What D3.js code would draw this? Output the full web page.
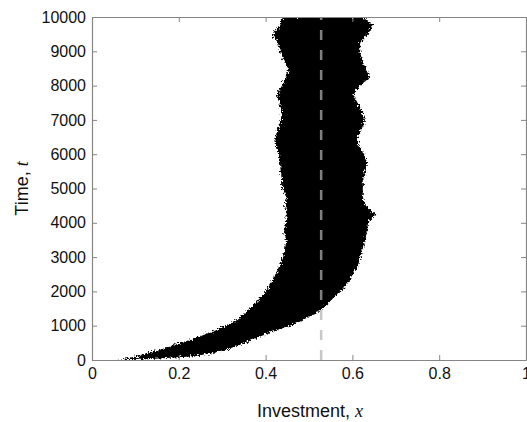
<!DOCTYPE html>
<html>
<head>
<meta charset="utf-8">
<script src="https://cdn.jsdelivr.net/npm/d3@7"></script>
<style>
	html, body { margin: 0; padding: 0; background: #fff; }
	svg { display: block; font-family: "Liberation Sans", Arial, sans-serif; }
	.axis path, .axis line { stroke: #858585; }
	.axis text { fill: #111; font-size: 16px; }
</style>
</head>
<body>
<div id="chart"></div>
<script>

var times = [0, 100, 200, 300, 400, 500, 600, 800, 1000, 1200, 1400, 1600, 1800, 2000,
	2250, 2500, 2750, 3000, 3250, 3500, 3750, 4000, 4250, 4500, 4750, 5000, 5250, 5500,
	5750, 6000, 6250, 6500, 6750, 7000, 7250, 7500, 7750, 8000, 8250, 8500, 8750, 9000,
	9250, 9500, 9750, 10000];

// lowest investment present at each time
var leftEdge = [0.060, 0.104, 0.127, 0.157, 0.180, 0.205, 0.228, 0.274, 0.309, 0.339,
	0.355, 0.371, 0.387, 0.401, 0.412, 0.424, 0.433, 0.440, 0.445, 0.447, 0.442, 0.447,
	0.449, 0.445, 0.449, 0.438, 0.438, 0.435, 0.433, 0.431, 0.424, 0.422, 0.429, 0.435,
	0.438, 0.431, 0.426, 0.438, 0.447, 0.452, 0.442, 0.433, 0.429, 0.415, 0.431, 0.440];

// highest investment present at each time
var rightEdge = [0.099, 0.226, 0.276, 0.309, 0.332, 0.353, 0.371, 0.410, 0.456, 0.491,
	0.521, 0.541, 0.555, 0.574, 0.590, 0.601, 0.613, 0.618, 0.624, 0.629, 0.634, 0.636,
	0.654, 0.631, 0.624, 0.624, 0.624, 0.629, 0.634, 0.627, 0.615, 0.611, 0.622, 0.629,
	0.622, 0.613, 0.601, 0.618, 0.641, 0.631, 0.622, 0.618, 0.618, 0.636, 0.647, 0.624];

var singularPoint = 0.528;

var xTicks = [0, 0.2, 0.4, 0.6, 0.8, 1];
var xTickLabels = ["0", "0.2", "0.4", "0.6", "0.8", "1"];
var yTicks = [0, 1000, 2000, 3000, 4000, 5000, 6000, 7000, 8000, 9000, 10000];


var W = 527, H = 422,
	margins = {top: 17, bottom: 62, left: 92, right: 1},
	width = W - margins.left - margins.right,
	height = H - margins.top - margins.bottom;

var xScale = d3.scaleLinear().domain([0, 1]).range([0, width]);
var yScale = d3.scaleLinear().domain([0, 10000]).range([height, 0]);

var svg = d3.select("#chart")
	.append("svg")
		.attr("width", W)
		.attr("height", H)
	.append("g")
		.attr("transform", "translate(" + margins.left + "," + margins.top + ")");

var defs = svg.append("defs");

defs.append("clipPath")
	.attr("id", "plot-clip")
	.append("rect")
		.attr("width", width)
		.attr("height", height);

// rough, speckled outline like a dense cloud of points
var rough = defs.append("filter")
	.attr("id", "rough")
	.attr("x", "-10%").attr("y", "-5%")
	.attr("width", "120%").attr("height", "110%");
rough.append("feTurbulence")
	.attr("type", "fractalNoise")
	.attr("baseFrequency", 0.55)
	.attr("numOctaves", 2)
	.attr("seed", 3)
	.attr("result", "noise");
rough.append("feDisplacementMap")
	.attr("in", "SourceGraphic")
	.attr("in2", "noise")
	.attr("scale", 7)
	.attr("xChannelSelector", "R")
	.attr("yChannelSelector", "G");

var cloud = times.map(function(t, i) { return {t: t, lo: leftEdge[i], hi: rightEdge[i]}; });

var area = d3.area()
	.y(function(d) { return yScale(d.t); })
	.x0(function(d) { return xScale(d.lo); })
	.x1(function(d) { return xScale(d.hi); });

var plot = svg.append("g").attr("clip-path", "url(#plot-clip)");

plot.append("g")
	.attr("filter", "url(#rough)")
	.append("path")
		.datum(cloud)
		.attr("d", area)
		.attr("fill", "#000");

plot.append("line")
	.attr("x1", xScale(singularPoint))
	.attr("x2", xScale(singularPoint))
	.attr("y1", yScale(0))
	.attr("y2", yScale(10000))
	.attr("stroke", "rgb(178,178,178)")
	.attr("stroke-opacity", 0.72)
	.attr("stroke-width", 2.5)
	.attr("stroke-dasharray", "10,10");

// axes, ticks pointing inward and mirrored on the opposite sides
var xAxis = d3.axisBottom(xScale).tickValues(xTicks).tickSizeInner(-5).tickSizeOuter(0).tickPadding(8)
	.tickFormat(function(d, i) { return xTickLabels[i]; });
var xAxisTop = d3.axisTop(xScale).tickValues(xTicks).tickSizeInner(-5).tickSizeOuter(0).tickFormat("");
var yAxis = d3.axisLeft(yScale).tickValues(yTicks).tickSizeInner(-5).tickSizeOuter(0).tickPadding(6)
	.tickFormat(d3.format("d"));
var yAxisRight = d3.axisRight(yScale).tickValues(yTicks).tickSizeInner(-5).tickSizeOuter(0).tickFormat("");

svg.append("g")
	.attr("class", "x axis")
	.attr("transform", "translate(0," + height + ")")
	.call(xAxis);

svg.append("g")
	.attr("class", "x axis top")
	.call(xAxisTop);

svg.append("g")
	.attr("class", "y axis left")
	.call(yAxis);

svg.append("g")
	.attr("class", "y axis right")
	.attr("transform", "translate(" + width + ",0)")
	.call(yAxisRight);

svg.selectAll(".axis .domain").attr("stroke-width", 1.2);

// axis titles
var xTitle = svg.append("text")
	.attr("x", 218)
	.attr("y", height + 57)
	.attr("text-anchor", "middle")
	.style("font-size", "18px")
	.attr("fill", "#111");
xTitle.append("tspan").text("Investment, ");
xTitle.append("tspan").style("font-family", "'Liberation Serif', 'Times New Roman', serif").style("font-style", "italic").text("x");

var yTitle = svg.append("text")
	.attr("transform", "translate(-64," + (height / 2) + ") rotate(-90)")
	.attr("text-anchor", "middle")
	.style("font-size", "18px")
	.attr("fill", "#111");
yTitle.append("tspan").text("Time, ");
yTitle.append("tspan").style("font-family", "'Liberation Serif', 'Times New Roman', serif").style("font-style", "italic").text("t");

</script>
</body>
</html>
